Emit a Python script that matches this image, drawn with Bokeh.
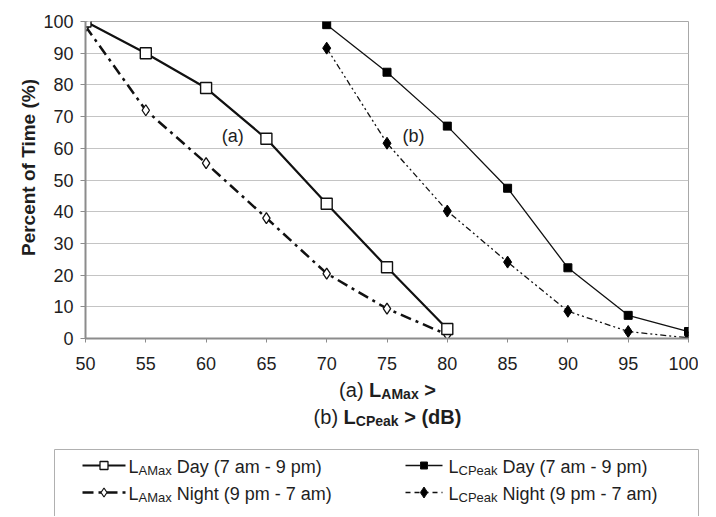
from bokeh.plotting import figure
from bokeh.models import Range1d, Label, FixedTicker
from bokeh.layouts import column, row
from bokeh.core.properties import value
from bokeh.embed import file_html
from bokeh.resources import INLINE
import math

# ---------------- data ----------------
x_lamax = [50, 55, 60, 65, 70, 75, 80]
lamax_day = [100, 90, 79, 63, 42.5, 22.5, 3]
lamax_night = [98.5, 72, 55.3, 38, 20.5, 9.4, 1.2]
x_lcpeak = [70, 75, 80, 85, 90, 95, 100]
lcpeak_day = [99, 84, 67, 47.4, 22.3, 7.3, 2.2]
lcpeak_night = [91.6, 61.6, 40.2, 24.1, 8.6, 2.2, 0.2]
x_ticks = list(range(50, 101, 5))
y_ticks = list(range(0, 101, 10))
y_title = "Percent of Time (%)"
curve_notes = [("(a)", 62.2, 64.0), ("(b)", 77.2, 64.0)]
legend_main = ["L", "L", "L", "L"]
legend_subs = ["AMax", "CPeak", "AMax", "CPeak"]
legend_rest = [" Day (7 am - 9 pm)", " Day (7 am - 9 pm)",
               " Night (9 pm - 7 am)", " Night (9 pm - 7 am)"]

FONT = "Liberation Sans"
TXT = "#1e1e1e"

# Arial-metric advance widths (per 1000 em)
W_REG = {' ': 278, '(': 333, ')': 333, '-': 333, '7': 556, '9': 556, 'A': 667,
         'C': 722, 'D': 722, 'L': 556, 'M': 833, 'N': 722, 'P': 667, 'a': 556,
         'b': 556, 'e': 556, 'g': 556, 'h': 556, 'i': 222, 'k': 500, 'm': 833,
         'p': 556, 't': 278, 'x': 500, 'y': 500, '>': 584, 'd': 556, 'B': 667}
W_BOLD = {' ': 278, '(': 333, ')': 333, '>': 584, 'A': 722, 'B': 722, 'C': 722,
          'L': 611, 'M': 833, 'P': 667, 'a': 556, 'd': 611, 'e': 556, 'k': 556,
          'x': 556}


def tw(s, size, bold):
    tab = W_BOLD if bold else W_REG
    return sum(tab.get(c, 556) for c in s) * size / 1000.0


def no_align(fig):
    try:
        fig.frame_align = False
    except Exception:
        pass


TOP_H = 377

# ---------------- y-axis title strip ----------------
yl = figure(width=40, height=TOP_H, x_range=Range1d(0, 40), y_range=Range1d(TOP_H, 0),
            min_border=0, toolbar_location=None, output_backend="svg")
yl.axis.visible = False
yl.grid.grid_line_color = None
yl.outline_line_color = None
yl.text(x=[28], y=[167], text=[y_title], angle=math.pi / 2, text_align="center",
        text_baseline="middle", text_font=value(FONT), text_font_size=value("19px"),
        text_font_style="bold", text_color=TXT)
no_align(yl)

# ---------------- main chart ----------------
p = figure(width=658, height=TOP_H, x_range=Range1d(50, 100), y_range=Range1d(0, 100),
           min_border_left=45, min_border_right=10, min_border_top=21,
           min_border_bottom=TOP_H - 21 - 317,
           toolbar_location=None, output_backend="svg", background_fill_color="white",
           border_fill_color="white")
no_align(p)
p.outline_line_color = "#a8a8a8"
p.outline_line_width = 1
p.xgrid.grid_line_color = None
p.ygrid.grid_line_color = "#c4c4c4"
p.ygrid.grid_line_width = 1
p.xaxis.ticker = FixedTicker(ticks=x_ticks)
p.yaxis.ticker = FixedTicker(ticks=y_ticks)
for ax in (p.xaxis, p.yaxis):
    ax.axis_line_color = "#8c8c8c"
    ax.axis_line_width = 2
    ax.major_tick_line_color = "#8c8c8c"
    ax.major_tick_in = 0
    ax.minor_tick_line_color = None
    ax.major_label_text_font = FONT
    ax.major_label_text_font_size = "18px"
    ax.major_label_text_color = TXT
p.xaxis.major_tick_out = 4
p.yaxis.major_tick_out = 5
p.xaxis.major_label_standoff = 14
p.yaxis.major_label_standoff = 7

# LCPeak Night
p.line(x_lcpeak, lcpeak_night, line_color="#111111", line_width=1.3, line_dash="6 3 2 3 2 3")
p.scatter(x_lcpeak, lcpeak_night, marker="diamond", size=12, fill_color="#000000",
          line_color="#000000")
# LCPeak Day
p.line(x_lcpeak, lcpeak_day, line_color="#111111", line_width=1.3)
p.scatter(x_lcpeak, lcpeak_day, marker="square", size=8, fill_color="#000000",
          line_color="#000000")
# LAMax Night
p.line(x_lamax, lamax_night, line_color="#111111", line_width=2.5, line_dash="11 5 3 5")
p.scatter(x_lamax, lamax_night, marker="diamond", size=11, fill_color="white",
          line_color="#111111", line_width=1.3)
# LAMax Day
p.line(x_lamax, lamax_day, line_color="#111111", line_width=2.2)
p.scatter(x_lamax, lamax_day, marker="square", size=11, fill_color="white",
          line_color="#111111", line_width=1.4)

for t, xx, yy in curve_notes:
    p.add_layout(Label(x=xx, y=yy, text=t, text_align="center", text_baseline="middle",
                       text_font=FONT, text_font_size="18px", text_color=TXT))

# ---------------- lower panel: axis title + legend ----------------
BOT_H = 516 - TOP_H
q = figure(width=700, height=BOT_H, x_range=Range1d(0, 700), y_range=Range1d(BOT_H, 0),
           min_border=0, toolbar_location=None, output_backend="svg")
no_align(q)
q.axis.visible = False
q.grid.grid_line_color = None
q.outline_line_color = None


def rich_line(fig, pieces, x0, align_center=False):
    total = sum(tw(s, sz, b) for s, sz, b, _ in pieces)
    x = x0 - total / 2 if align_center else x0
    for s, sz, b, yb in pieces:
        lead = len(s) - len(s.lstrip(' '))
        xs = x + tw(' ' * lead, sz, b)
        fig.text(x=[xs], y=[yb], text=[s.strip(' ')], text_font=value(FONT),
                 text_font_size=value(f"{sz}px"),
                 text_font_style="bold" if b else "normal",
                 text_align="left", text_baseline="alphabetic", text_color=TXT)
        x += tw(s, sz, b)


rich_line(q, [("(a) ", 20, False, 12), ("L", 20, True, 12), ("AMax", 14, True, 16),
              (" >", 20, True, 12)], 387, align_center=True)
rich_line(q, [("(b) ", 20, False, 39), ("L", 20, True, 39), ("CPeak", 14, True, 43),
              (" > (dB)", 20, True, 39)], 387, align_center=True)

# legend box (bottom edge lies beyond the page)
q.quad(left=[54], right=[698], top=[72], bottom=[170], fill_color=None,
       line_color="#b0b0b0", line_width=1)

col_glyph = [(82, 125), (405, 442)]
col_text = [128, 448]
row_y = [88, 115]
row_base = [89.5, 116.5]
styles = [
    dict(dash="solid", lw=2.2, marker="square", size=8, fill="white", lwm=1.3),
    dict(dash="solid", lw=1.3, marker="square", size=7, fill="#000000", lwm=1),
    dict(dash="11 5 3 5", lw=2.5, marker="diamond", size=9, fill="white", lwm=1.2),
    dict(dash="5 4", lw=1.3, marker="diamond", size=11, fill="#000000", lwm=1),
]
for i in range(4):
    r, c = divmod(i, 2)
    st = styles[i]
    x0, x1 = col_glyph[c]
    q.line([x0, x1], [row_y[r], row_y[r]], line_color="#111111", line_width=st["lw"],
           line_dash=st["dash"])
    q.scatter([(x0 + x1) / 2], [row_y[r]], marker=st["marker"], size=st["size"],
              fill_color=st["fill"], line_color="#111111", line_width=st["lwm"])
    b = row_base[r]
    rich_line(q, [(legend_main[i], 18, False, b), (legend_subs[i], 13, False, b + 3),
                  (legend_rest[i], 18, False, b)], col_text[c])

layout = column(row(yl, p, spacing=0), q, spacing=0)
open("out.html", "w").write(file_html(layout, INLINE))
